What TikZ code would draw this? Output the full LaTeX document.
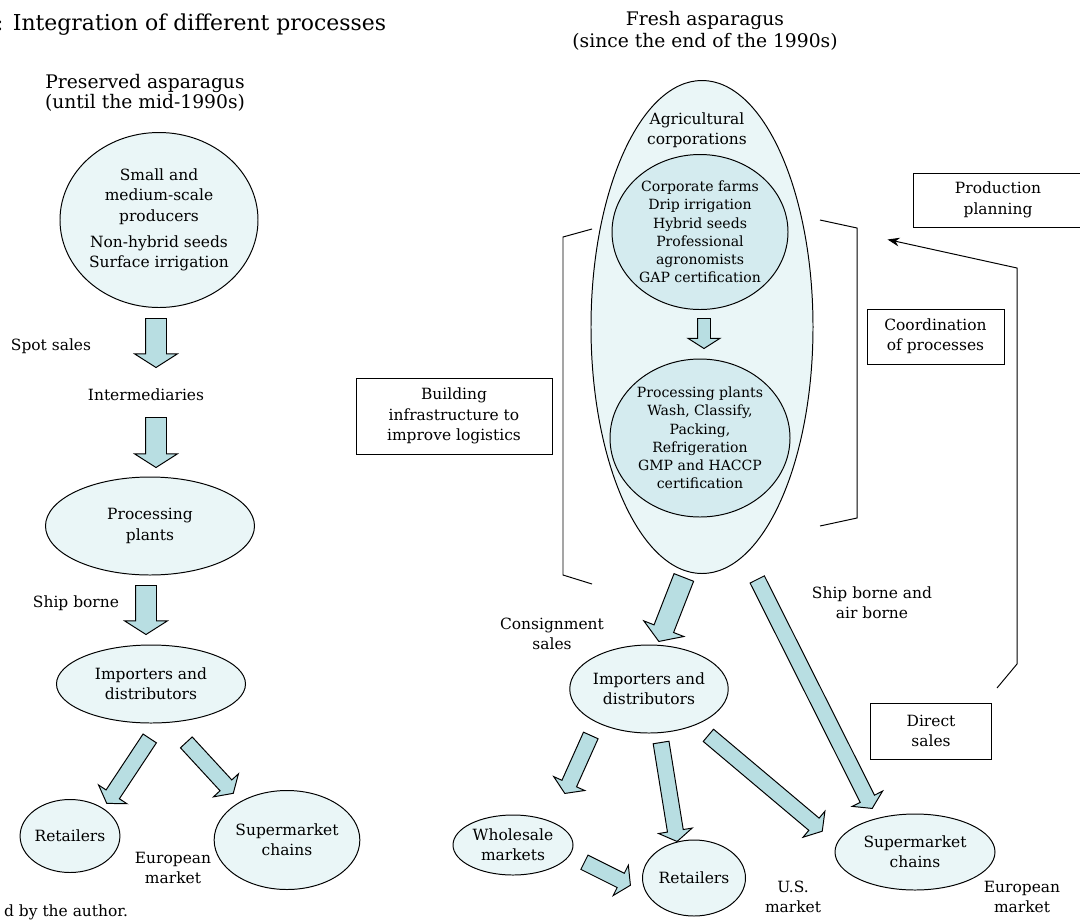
\documentclass[tikz,border=0pt]{standalone}
\usepackage{fontspec}
\setmainfont{DejaVu Serif}
\usetikzlibrary{shapes.geometric,shapes.arrows,arrows.meta,calc}

\definecolor{ovalfill}{RGB}{234,246,247}
\definecolor{innerfill}{RGB}{212,235,239}
\definecolor{arrowfill}{RGB}{184,222,226}

\newcommand{\bodysize}{\fontsize{11}{14.5}\selectfont}
\newcommand{\smallsize}{\fontsize{10}{13}\selectfont}
\newcommand{\headsize}{\fontsize{13.3}{16}\selectfont}
\newcommand{\titlesize}{\fontsize{15.6}{18}\selectfont}

% fat arrow from one point to another
\newcommand{\blockarrow}[3][]{%
	\coordinate (ba-s) at ($#2$);
	\coordinate (ba-e) at ($#3$);
	\path let \p1=($(ba-e)-(ba-s)$), \n1={atan2(\y1,\x1)}, \n2={veclen(\x1,\y1)} in
		node[fatarrow,#1,minimum height=\n2,rotate=\n1,anchor=tail] at (ba-s) {};
}

\begin{document}
\begin{tikzpicture}[x=0.25mm, y=-0.25mm, line width=0.7pt,
	oval/.style={ellipse, draw, fill=ovalfill, inner sep=0pt, align=center, font=\bodysize},
	inoval/.style={ellipse, draw, fill=innerfill, inner sep=0pt, align=center, font=\smallsize},
	box/.style={draw, rectangle, inner sep=0pt, align=center, font=\bodysize},
	txt/.style={align=center, font=\bodysize},
	fatarrow/.style={single arrow, draw, fill=arrowfill, inner xsep=0pt, inner ysep=2.5mm, minimum width=0pt,
		single arrow head extend=2.75mm, single arrow tip angle=115, single arrow head indent=0pt},
	slimarrow/.style={inner ysep=1.875mm, single arrow head extend=2.25mm},
	smallarrow/.style={inner ysep=1.5mm, single arrow head extend=2.375mm}]
	\useasboundingbox (0,0) rectangle (1080,919);

	\node[anchor=base west, font=\titlesize] (title) at (-9,30) {: Integration of different processes};

	% preserved asparagus
	\node[align=center, font=\headsize] (lefthead) at (145,93) {Preserved asparagus\\[-2pt](until the mid-1990s)};
	\node[oval, minimum width=49.5mm, minimum height=43.75mm] (sml) at (159,220)
		{Small and\\medium-scale\\producers\\[1.5mm]Non-hybrid seeds\\Surface irrigation};
	\node[txt] (spot) at (51,346) {Spot sales};
	\node[txt] (inter) at (146,395) {Intermediaries};
	\node[oval, minimum width=52.25mm, minimum height=24.5mm] (procL) at (150,526) {Processing\\plants};
	\node[txt] (shipL) at (76,603) {Ship borne};
	\node[oval, minimum width=47.25mm, minimum height=19.5mm] (impL) at (151,684) {Importers and\\distributors};
	\node[oval, minimum width=24.25mm, minimum height=18.25mm] (retL) at (70,836) {Retailers};
	\node[oval, minimum width=34.5mm, minimum height=24.75mm] (supL) at (287,840) {Supermarket\\chains};
	\node[txt] (euroL) at (173,868) {European\\market};
	\node[txt, anchor=base west] (source) at (-1,916) {d by the author.};

	\blockarrow{(sml)+(-3,98)}{(inter)+(10,-28)}
	\blockarrow{(inter)+(10,22)}{(procL)+(6,-59)}
	\blockarrow{(procL)+(-4,59)}{(impL)+(-5,-50)}
	\blockarrow[slimarrow]{(impL)+(-1,54)}{(retL)+(37,-33)}
	\blockarrow[slimarrow]{(impL)+(35,58)}{(supL)+(-54,-47)}

	% fresh asparagus
	\node[align=center, font=\headsize] (righthead) at (705,31) {Fresh asparagus\\(since the end of the 1990s)};
	\node[oval, minimum width=55.5mm, minimum height=123.25mm] (agri) at (702,327) {};
	\node[txt] (agrilbl) at (697,130) {Agricultural\\corporations};
	\node[inoval, minimum width=44mm, minimum height=38.75mm] (farms) at (700,232)
		{Corporate farms\\Drip irrigation\\Hybrid seeds\\Professional\\agronomists\\GAP certification};
	\node[inoval, minimum width=45mm, minimum height=39.5mm] (plants) at (700,438)
		{Processing plants\\Wash, Classify,\\Packing,\\Refrigeration\\GMP and HACCP\\certification};
	\blockarrow[smallarrow]{(farms)+(4,86)}{(plants)+(4,-90)}

	\draw (592,229) -- (563,237) -- (563,575) -- (592,584);
	\draw (820,220) -- (857,228) -- (857,518) -- (820,526);
	\node[box, minimum width=49mm, minimum height=19mm] (build) at (454,416) {Building\\infrastructure to\\improve logistics};
	\node[box, minimum width=34.25mm, minimum height=13.75mm] (coord) at (935.5,336.5) {Coordination\\of processes};
	\node[box, minimum width=42.5mm, minimum height=13.5mm] (prodplan) at (998,200) {Production\\planning};

	\node[txt] (consign) at (552,634) {Consignment\\sales};
	\node[txt] (shipR) at (872,603) {Ship borne and\\air borne};
	\node[oval, minimum width=38.75mm, minimum height=22mm] (impR) at (649,689) {Importers and\\distributors};
	\node[oval, minimum width=30mm, minimum height=15mm] (whole) at (513,845) {Wholesale\\markets};
	\node[oval, minimum width=25.75mm, minimum height=19mm] (retR) at (694,878) {Retailers};
	\node[oval, minimum width=40mm, minimum height=19mm] (supR) at (915,852) {Supermarket\\chains};
	\node[txt] (usm) at (793,897) {U.S.\\market};
	\node[txt] (euroR) at (1022,897) {European\\market};
	\node[box, minimum width=30.25mm, minimum height=14mm] (direct) at (931,731) {Direct\\sales};

	\blockarrow{(agri)+(-18,250)}{(impR)+(10,-48)}
	\blockarrow[slimarrow]{(agri)+(55,252)}{(supR)+(-43,-44)}
	\blockarrow[slimarrow]{(impR)+(-58,46)}{(whole)+(52,-52)}
	\blockarrow[slimarrow]{(impR)+(12,53)}{(retR)+(-17,-37)}
	\blockarrow[slimarrow]{(impR)+(59,46)}{(supR)+(-93,-21)}
	\blockarrow[slimarrow]{(whole)+(71,17)}{(retR)+(-64,7)}

	% feedback to production planning
	\coordinate (fbstart) at ($(direct)+(66,-43)$);
	\coordinate (fbtip) at ($(prodplan.south west)+(-25,12)$);
	\draw[-{Stealth[length=3mm,width=2.2mm]}] (fbstart) -- ++(20,-24) -- ++(0,-396) -- (fbtip);
\end{tikzpicture}
\end{document}
